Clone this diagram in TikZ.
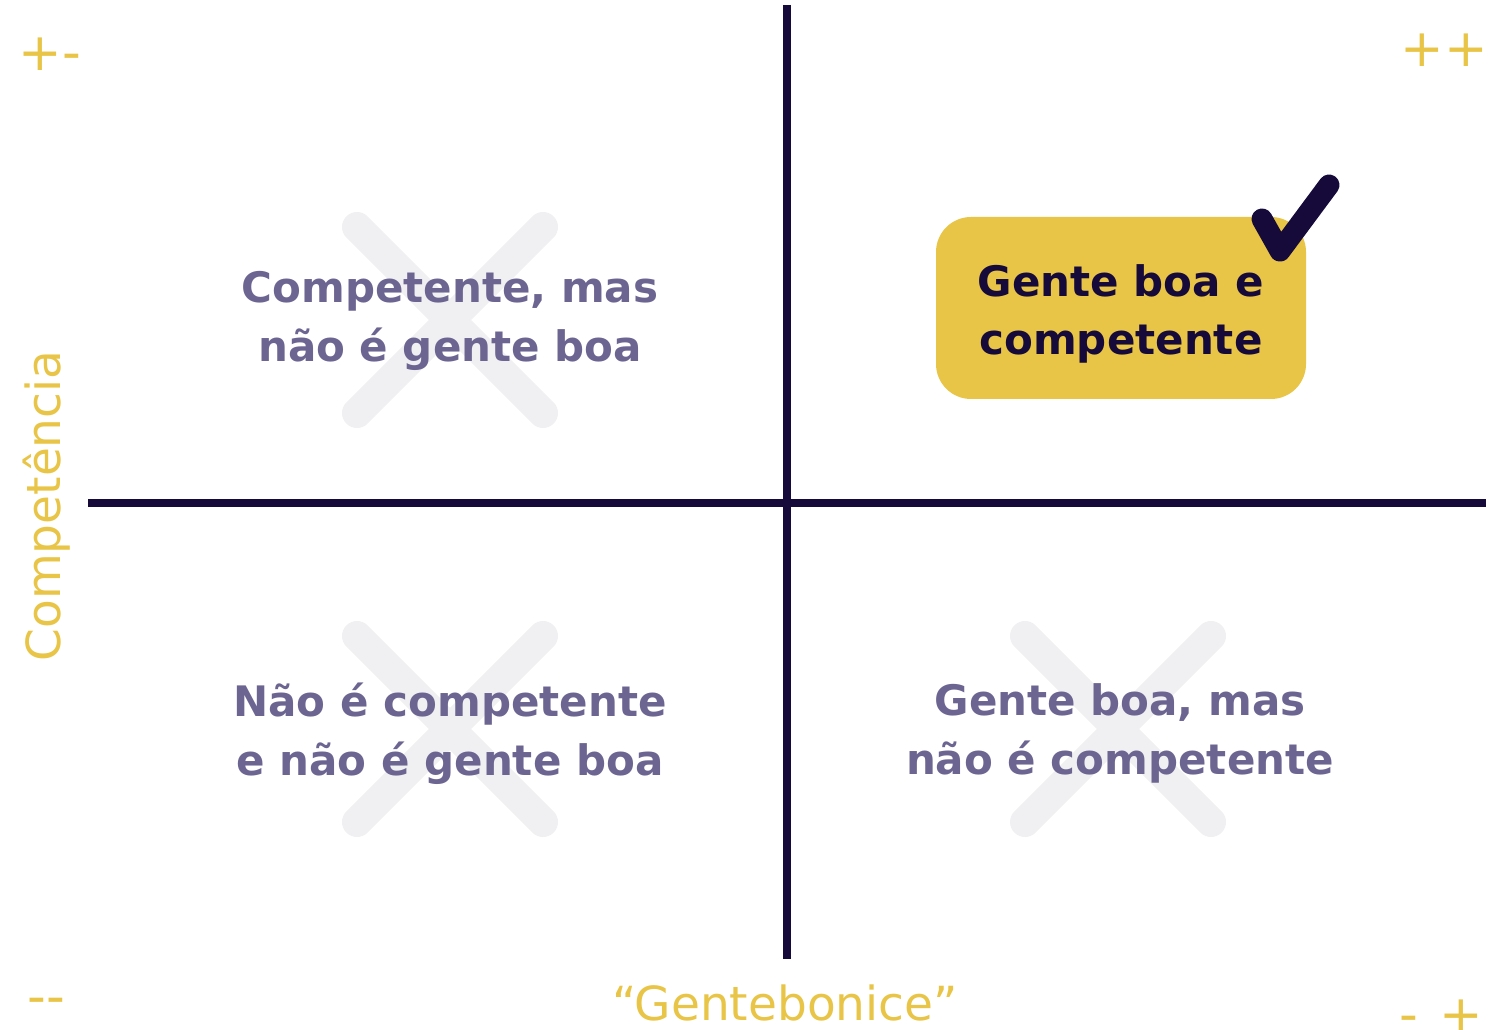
\documentclass[tikz,border=0pt]{standalone}
\usepackage{fontspec}
\setmainfont{DejaVu Sans}
\usetikzlibrary{positioning}

\definecolor{axisdark}{HTML}{150A3A}
\definecolor{mustard}{HTML}{E8C447}
\definecolor{mutedpurple}{HTML}{6D6591}
\definecolor{crossgray}{HTML}{F0F0F2}

\tikzset{
  axis/.style={line width=8pt, axisdark},
  cross/.style={line width=30pt, line cap=round, crossgray},
  quadrant/.style={align=center, text=mutedpurple, font=\fontsize{42}{59}\selectfont\bfseries},
  corner/.style={text=mustard, font=\fontsize{52}{60}\selectfont, inner sep=0pt},
  axislabel/.style={text=mustard, font=\fontsize{47}{56}\selectfont, inner sep=0pt}
}

\begin{document}
\begin{tikzpicture}[x=1pt, y=1pt]
\useasboundingbox (0,0) rectangle (1501,1030);

% Faded crosses
\foreach \cx/\cy in {450/710, 450/301, 1118/301}
  \draw[cross] (\cx-93,\cy-93) -- (\cx+93,\cy+93)
               (\cx-93,\cy+93) -- (\cx+93,\cy-93);

% Axes
\coordinate (top) at (787,1025);
\coordinate (bottom) at (787,71);
\coordinate (left) at (88,526.5);
\coordinate (right) at (1486,526.5);
\draw[axis] (left) -- (right);
\draw[axis] (top) -- (bottom);

% Quadrants
\node[quadrant] (compnotgood) at (450,709) {Competente, mas\\não é gente boa};
\node[quadrant] (neither) at (450,296) {Não é competente\\e não é gente boa};
\node[quadrant] (goodnotcomp) at (1120,297) {Gente boa, mas\\não é competente};

% Winner
\node[fill=mustard, rounded corners=35pt, minimum width=370pt, minimum height=182pt]
  (both) at (1121,722) {};
\node[align=center, text=axisdark, font=\fontsize{42}{58}\selectfont\bfseries]
  (bothtext) at ([shift={(0,-6)}]both.center) {Gente boa e\\competente};
\coordinate (tickstart) at (1262,811);
\coordinate (tickdip) at (1280,779);
\coordinate (tickend) at (1329,845);
\draw[axisdark, line width=21pt, line join=round, line cap=round]
  (tickstart) -- (tickdip) -- (tickend);

% Corner signs
\node[corner] (pm) at (50,976) {+-};
\node[corner] (pp) at (1444,980) {++};
\node[corner] (mm) at (46,24) {-{}-};
\node[corner] (mp) at (1441,14) {-\hspace{5pt} +};

% Axis names
\node[axislabel, rotate=90, anchor=base] (comp) at (60,524) {Competência};
\node[axislabel, anchor=base] (gente) at (785,9) {“Gentebonice”};
\end{tikzpicture}
\end{document}
